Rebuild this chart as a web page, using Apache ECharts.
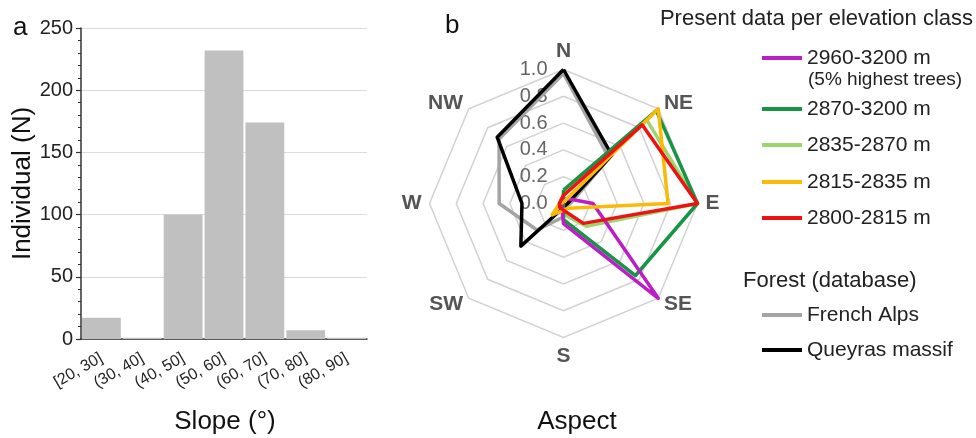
<!DOCTYPE html>
<html>
<head>
<meta charset="utf-8">
<script src="https://cdn.jsdelivr.net/npm/echarts@6/dist/echarts.min.js"></script>
<style>
html,body{margin:0;padding:0;background:#fff;}
#c{width:976px;height:438px;}
</style>
</head>
<body>
<div id="c"></div>
<script>
// ---- Panel a: slope histogram ----
var slopeCategories = ['[20, 30]', '(30, 40]', '(40, 50]', '(50, 60]', '(60, 70]', '(70, 80]', '(80, 90]'];
var slopeCounts = [17, 1, 100, 232, 174, 7, 1];
var countTicks = [0, 50, 100, 150, 200, 250];

// ---- Panel b: aspect radar (values in order N, NE, E, SE, S, SW, W, NW) ----
var aspects = ['N', 'NE', 'E', 'SE', 'S', 'SW', 'W', 'NW'];
var radarTicks = ['0.0', '0.2', '0.4', '0.6', '0.8', '1.0'];
var names = ['2960-3200 m', '2870-3200 m', '2835-2870 m', '2815-2835 m', '2800-2815 m', 'French Alps', 'Queyras massif'];
var v2960 = [0.03, 0.05, 0.22, 1.00, 0.15, 0.02, 0.02, 0.02];
var v2870 = [0.10, 0.98, 1.00, 0.76, 0.12, 0.00, 0.00, 0.00];
var v2835 = [0.08, 0.88, 1.00, 0.24, 0.08, 0.03, 0.02, 0.02];
var v2815 = [0.01, 1.00, 0.78, 0.05, 0.05, 0.12, 0.03, 0.01];
var v2800 = [0.06, 0.83, 1.00, 0.21, 0.05, 0.04, 0.03, 0.03];
var vAlps = [0.97, 0.48, 0.05, 0.03, 0.10, 0.28, 0.48, 0.68];
var vQueyras = [1.00, 0.51, 0.03, 0.02, 0.03, 0.45, 0.31, 0.70];

var FONT = '"Liberation Sans", Arial, Helvetica, sans-serif';
var colors = {
  '2960-3200 m': '#bb1fc4',
  '2870-3200 m': '#179444',
  '2835-2870 m': '#9bd66e',
  '2815-2835 m': '#fbba08',
  '2800-2815 m': '#ee1212',
  'French Alps': '#a4a4a4',
  'Queyras massif': '#000000'
};
var seriesValues = {
  '2960-3200 m': v2960,
  '2870-3200 m': v2870,
  '2835-2870 m': v2835,
  '2815-2835 m': v2815,
  '2800-2815 m': v2800,
  'French Alps': vAlps,
  'Queyras massif': vQueyras
};

// ECharts radar goes counter-clockwise; list indicators so the compass reads clockwise
var order = [0, 7, 6, 5, 4, 3, 2, 1];
var indicator = order.map(function (i, k) {
  var ind = { name: aspects[i], min: 0, max: 1 };
  if (k === 0) {
    ind.axisLabel = {
      show: true, margin: 16, color: '#666', fontSize: 20, fontFamily: FONT,
      formatter: function (v) { return radarTicks[Math.round(v * 5)]; }
    };
  }
  return ind;
});

// draw order bottom -> top
var drawOrder = ['French Alps', 'Queyras massif', '2835-2870 m', '2870-3200 m', '2960-3200 m', '2815-2835 m', '2800-2815 m'];
var radarSeries = drawOrder.map(function (n) {
  var vals = seriesValues[n];
  return {
    type: 'radar', name: n, radarIndex: 0, symbol: 'none', silent: true,
    lineStyle: { color: colors[n], width: 3.5 },
    itemStyle: { color: colors[n] },
    data: [{ name: n, value: order.map(function (i) { return vals[i]; }) }]
  };
});

var legendCenters = [58, 109, 145, 182, 218, 315, 350];
var legends = names.map(function (n, k) {
  return {
    data: [{ name: n, icon: 'rect', itemStyle: { color: colors[n] } }],
    left: 762, top: legendCenters[k] - 12, padding: 0,
    itemWidth: 40, itemHeight: 4, selectedMode: false,
    textStyle: { fontSize: 21, color: '#222', fontFamily: FONT, lineHeight: 24 }
  };
});

var chart = echarts.init(document.getElementById('c'));
chart.setOption({
  animation: false,
  backgroundColor: '#fff',
  textStyle: { fontFamily: FONT },
  title: [
    { text: 'a', left: 13, top: 15, padding: 0, textStyle: { fontSize: 26, fontWeight: 'normal', color: '#111', fontFamily: FONT } },
    { text: 'b', left: 445, top: 13, padding: 0, textStyle: { fontSize: 26, fontWeight: 'normal', color: '#111', fontFamily: FONT } },
    { text: 'Slope (°)', left: 225, top: 409, textAlign: 'center', padding: 0, textStyle: { fontSize: 26, fontWeight: 'normal', color: '#111', fontFamily: FONT } },
    { text: 'Aspect', left: 577, top: 409, textAlign: 'center', padding: 0, textStyle: { fontSize: 26, fontWeight: 'normal', color: '#111', fontFamily: FONT } },
    { text: 'Present data per elevation class', right: 3, top: 8, padding: 0, textStyle: { fontSize: 22, fontWeight: 'normal', color: '#222', fontFamily: FONT } },
    { text: '(5% highest trees)', left: 808, top: 70, padding: 0, textStyle: { fontSize: 19, fontWeight: 'normal', color: '#222', fontFamily: FONT } },
    { text: 'Forest (database)', left: 743, top: 270, padding: 0, textStyle: { fontSize: 22, fontWeight: 'normal', color: '#222', fontFamily: FONT } }
  ],
  legend: legends,
  grid: { left: 81, top: 28, width: 286, height: 311, containLabel: false },
  xAxis: {
    type: 'category', data: slopeCategories,
    axisLine: { lineStyle: { color: '#333', width: 1.5 } },
    axisTick: { show: false },
    axisLabel: { rotate: 30, fontSize: 16, color: '#222', margin: 18, interval: 0, fontFamily: FONT }
  },
  yAxis: {
    type: 'value', min: countTicks[0], max: countTicks[countTicks.length - 1], interval: 50,
    name: 'Individual (N)', nameLocation: 'middle', nameGap: 38,
    nameTextStyle: { fontSize: 26, color: '#111', fontFamily: FONT },
    axisLine: { show: true, lineStyle: { color: '#333', width: 1.5 } },
    axisTick: { show: true, length: 5, lineStyle: { color: '#333', width: 1.2 } },
    minorTick: { show: true, splitNumber: 5, length: 3, lineStyle: { color: '#333', width: 1 } },
    axisLabel: { fontSize: 20, color: '#222', margin: 8, fontFamily: FONT },
    splitLine: { show: true, lineStyle: { color: '#dcdcdc', width: 1 } }
  },
  radar: {
    center: [563.5, 203.5], radius: 134, startAngle: 90, splitNumber: 5, shape: 'polygon',
    indicator: indicator,
    nameGap: 8,
    axisName: { color: '#555', fontWeight: 'bold', fontSize: 21, fontFamily: FONT },
    splitLine: { lineStyle: { color: '#d2d2d2', width: 1.5 } },
    splitArea: { show: false },
    axisLine: { show: false },
    axisTick: { show: false },
    axisLabel: { show: false }
  },
  series: [{
    type: 'bar', data: slopeCounts, barCategoryGap: '5%',
    itemStyle: { color: '#c0c0c0' }, silent: true
  }].concat(radarSeries)
});
</script>
</body>
</html>
